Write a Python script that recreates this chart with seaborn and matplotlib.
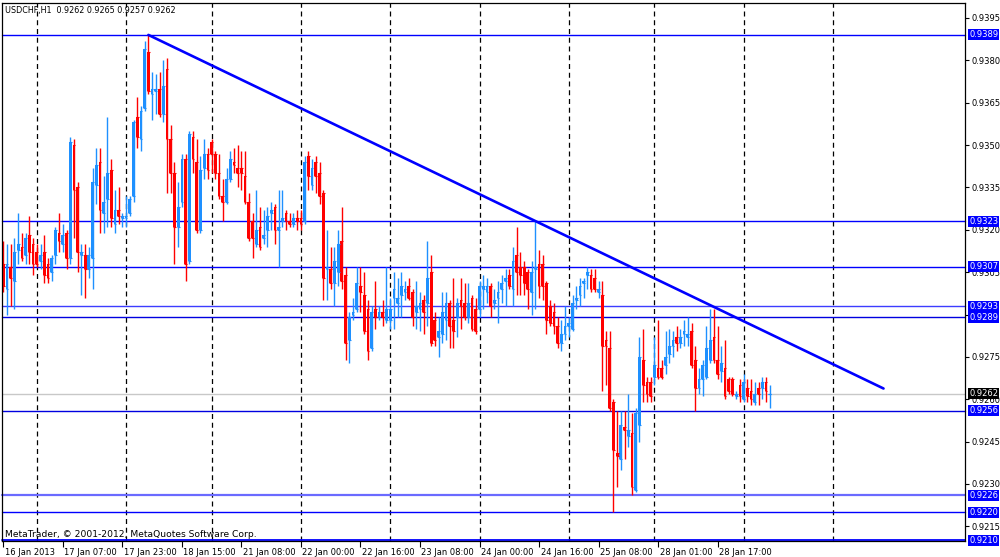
import numpy as np
import pandas as pd
import matplotlib
matplotlib.use("Agg")
import matplotlib.pyplot as plt
import seaborn as sns
from matplotlib.transforms import blended_transform_factory, ScaledTranslation

# ---------------- data ----------------
symbol = "USDCHF,H1"

opens = [
    0.9308, 0.9299, 0.9307, 0.9302, 0.9313, 0.9314, 0.9311, 0.9318, 0.9315, 0.9312,
    0.9309, 0.9312, 0.9308, 0.9305, 0.9311, 0.9319, 0.9315, 0.9319, 0.9310, 0.9350,
    0.9335, 0.9311, 0.9311, 0.9306, 0.9310, 0.9336, 0.9344, 0.9326, 0.9331, 0.9341,
    0.9322, 0.9327, 0.9324, 0.9324, 0.9326, 0.9332, 0.9360, 0.9352, 0.9363, 0.9383,
    0.9368, 0.9369, 0.9370, 0.9361, 0.9377, 0.9352, 0.9340, 0.9321, 0.9330, 0.9345,
    0.9309, 0.9353, 0.9344, 0.9320, 0.9342, 0.9347, 0.9351, 0.9347, 0.9340, 0.9332,
    0.9330, 0.9338, 0.9344, 0.9342, 0.9342, 0.9339, 0.9330, 0.9323, 0.9315, 0.9321,
    0.9317, 0.9320, 0.9326, 0.9328, 0.9320, 0.9323, 0.9326, 0.9323, 0.9322, 0.9324,
    0.9324, 0.9323, 0.9346, 0.9336, 0.9344, 0.9340, 0.9333, 0.9306, 0.9306, 0.9301,
    0.9305, 0.9316, 0.9304, 0.9281, 0.9290, 0.9292, 0.9300, 0.9297, 0.9292, 0.9278,
    0.9292, 0.9289, 0.9291, 0.9288, 0.9288, 0.9296, 0.9294, 0.9297, 0.9298, 0.9300,
    0.9298, 0.9291, 0.9292, 0.9295, 0.9294, 0.9305, 0.9288, 0.9282, 0.9283, 0.9288,
    0.9294, 0.9288, 0.9289, 0.9295, 0.9294, 0.9289, 0.9296, 0.9292, 0.9292, 0.9299,
    0.9298, 0.9300, 0.9294, 0.9296, 0.9299, 0.9302, 0.9304, 0.9299, 0.9311, 0.9307,
    0.9307, 0.9305, 0.9298, 0.9306, 0.9308, 0.9308, 0.9301, 0.9293, 0.9291, 0.9286,
    0.9280, 0.9283, 0.9286, 0.9285, 0.9295, 0.9297, 0.9301, 0.9304, 0.9304, 0.9303,
    0.9298, 0.9297, 0.9281, 0.9278, 0.9259, 0.9241, 0.9239, 0.9250, 0.9247, 0.9248,
    0.9228, 0.9251, 0.9274, 0.9266, 0.9266, 0.9268, 0.9271, 0.9271, 0.9272, 0.9276,
    0.9279, 0.9282, 0.9280, 0.9283, 0.9282, 0.9284, 0.9274, 0.9264, 0.9267, 0.9268,
    0.9274, 0.9282, 0.9274, 0.9270, 0.9271, 0.9267, 0.9267, 0.9261, 0.9265, 0.9260,
    0.9264, 0.9263, 0.9259, 0.9264, 0.9264, 0.9266, 0.9262,
]
highs = [
    0.9316, 0.9315, 0.9315, 0.9317, 0.9326, 0.9319, 0.9319, 0.9325, 0.9317, 0.9315,
    0.9315, 0.9318, 0.9310, 0.9311, 0.9321, 0.9326, 0.9322, 0.9320, 0.9353, 0.9352,
    0.9337, 0.9315, 0.9315, 0.9314, 0.9342, 0.9349, 0.9349, 0.9339, 0.9360, 0.9345,
    0.9334, 0.9335, 0.9326, 0.9332, 0.9332, 0.9359, 0.9367, 0.9364, 0.9387, 0.9389,
    0.9376, 0.9375, 0.9376, 0.9380, 0.9381, 0.9357, 0.9344, 0.9337, 0.9347, 0.9347,
    0.9355, 0.9355, 0.9352, 0.9346, 0.9352, 0.9349, 0.9352, 0.9348, 0.9347, 0.9338,
    0.9342, 0.9348, 0.9349, 0.9350, 0.9348, 0.9348, 0.9333, 0.9326, 0.9334, 0.9328,
    0.9327, 0.9328, 0.9330, 0.9329, 0.9334, 0.9334, 0.9327, 0.9326, 0.9326, 0.9327,
    0.9327, 0.9346, 0.9348, 0.9345, 0.9346, 0.9344, 0.9334, 0.9320, 0.9314, 0.9314,
    0.9320, 0.9328, 0.9307, 0.9291, 0.9296, 0.9307, 0.9307, 0.9305, 0.9295, 0.9293,
    0.9302, 0.9293, 0.9295, 0.9307, 0.9296, 0.9305, 0.9303, 0.9305, 0.9302, 0.9303,
    0.9299, 0.9302, 0.9298, 0.9297, 0.9316, 0.9311, 0.9291, 0.9289, 0.9298, 0.9298,
    0.9295, 0.9303, 0.9296, 0.9303, 0.9301, 0.9301, 0.9297, 0.9296, 0.9302, 0.9304,
    0.9303, 0.9301, 0.9299, 0.9302, 0.9304, 0.9306, 0.9306, 0.9314, 0.9321, 0.9312,
    0.9309, 0.9306, 0.9309, 0.9323, 0.9313, 0.9311, 0.9302, 0.9295, 0.9294, 0.9289,
    0.9288, 0.9293, 0.9289, 0.9297, 0.9300, 0.9303, 0.9303, 0.9307, 0.9306, 0.9306,
    0.9302, 0.9302, 0.9284, 0.9284, 0.9260, 0.9256, 0.9256, 0.9256, 0.9262, 0.9255,
    0.9257, 0.9282, 0.9285, 0.9268, 0.9268, 0.9282, 0.9288, 0.9274, 0.9284, 0.9285,
    0.9284, 0.9286, 0.9285, 0.9288, 0.9289, 0.9287, 0.9279, 0.9271, 0.9274, 0.9286,
    0.9292, 0.9292, 0.9286, 0.9279, 0.9281, 0.9268, 0.9268, 0.9263, 0.9267, 0.9269,
    0.9267, 0.9267, 0.9266, 0.9266, 0.9268, 0.9268, 0.9265,
]
lows = [
    0.9298, 0.9290, 0.9293, 0.9292, 0.9308, 0.9309, 0.9308, 0.9308, 0.9304, 0.9307,
    0.9306, 0.9301, 0.9301, 0.9302, 0.9308, 0.9312, 0.9312, 0.9306, 0.9308, 0.9317,
    0.9305, 0.9297, 0.9296, 0.9303, 0.9299, 0.9329, 0.9319, 0.9319, 0.9321, 0.9321,
    0.9319, 0.9322, 0.9321, 0.9321, 0.9325, 0.9330, 0.9349, 0.9348, 0.9362, 0.9368,
    0.9359, 0.9361, 0.9360, 0.9358, 0.9333, 0.9333, 0.9308, 0.9314, 0.9328, 0.9302,
    0.9308, 0.9340, 0.9319, 0.9319, 0.9338, 0.9338, 0.9340, 0.9338, 0.9331, 0.9323,
    0.9329, 0.9337, 0.9340, 0.9335, 0.9334, 0.9329, 0.9316, 0.9310, 0.9314, 0.9313,
    0.9315, 0.9314, 0.9320, 0.9315, 0.9307, 0.9321, 0.9320, 0.9321, 0.9321, 0.9320,
    0.9320, 0.9322, 0.9334, 0.9334, 0.9333, 0.9329, 0.9295, 0.9295, 0.9299, 0.9293,
    0.9300, 0.9299, 0.9274, 0.9273, 0.9288, 0.9291, 0.9291, 0.9283, 0.9274, 0.9277,
    0.9285, 0.9288, 0.9286, 0.9287, 0.9285, 0.9285, 0.9289, 0.9289, 0.9295, 0.9295,
    0.9286, 0.9285, 0.9284, 0.9283, 0.9286, 0.9279, 0.9279, 0.9275, 0.9280, 0.9281,
    0.9278, 0.9278, 0.9282, 0.9285, 0.9288, 0.9287, 0.9284, 0.9283, 0.9289, 0.9292,
    0.9294, 0.9289, 0.9292, 0.9287, 0.9294, 0.9293, 0.9299, 0.9293, 0.9297, 0.9297,
    0.9297, 0.9292, 0.9290, 0.9292, 0.9296, 0.9295, 0.9283, 0.9286, 0.9283, 0.9278,
    0.9277, 0.9281, 0.9282, 0.9284, 0.9292, 0.9293, 0.9296, 0.9299, 0.9298, 0.9298,
    0.9296, 0.9263, 0.9265, 0.9256, 0.9220, 0.9229, 0.9235, 0.9239, 0.9243, 0.9226,
    0.9227, 0.9245, 0.9259, 0.9259, 0.9259, 0.9265, 0.9267, 0.9267, 0.9269, 0.9273,
    0.9275, 0.9277, 0.9278, 0.9279, 0.9279, 0.9271, 0.9256, 0.9262, 0.9261, 0.9267,
    0.9273, 0.9273, 0.9267, 0.9266, 0.9260, 0.9262, 0.9261, 0.9260, 0.9259, 0.9259,
    0.9259, 0.9258, 0.9258, 0.9258, 0.9260, 0.9259, 0.9257,
]
closes = [
    0.9300, 0.9308, 0.9303, 0.9312, 0.9315, 0.9310, 0.9317, 0.9312, 0.9308, 0.9308,
    0.9311, 0.9304, 0.9303, 0.9310, 0.9320, 0.9316, 0.9318, 0.9310, 0.9351, 0.9334,
    0.9312, 0.9312, 0.9306, 0.9311, 0.9337, 0.9343, 0.9327, 0.9330, 0.9340, 0.9324,
    0.9327, 0.9325, 0.9325, 0.9325, 0.9331, 0.9358, 0.9353, 0.9362, 0.9384, 0.9369,
    0.9370, 0.9370, 0.9361, 0.9371, 0.9352, 0.9340, 0.9321, 0.9328, 0.9345, 0.9308,
    0.9354, 0.9345, 0.9320, 0.9341, 0.9347, 0.9341, 0.9347, 0.9340, 0.9332, 0.9330,
    0.9338, 0.9345, 0.9343, 0.9340, 0.9340, 0.9330, 0.9317, 0.9317, 0.9320, 0.9314,
    0.9318, 0.9325, 0.9327, 0.9320, 0.9321, 0.9324, 0.9323, 0.9322, 0.9324, 0.9323,
    0.9322, 0.9344, 0.9339, 0.9342, 0.9339, 0.9332, 0.9303, 0.9307, 0.9301, 0.9309,
    0.9315, 0.9302, 0.9280, 0.9289, 0.9291, 0.9301, 0.9298, 0.9284, 0.9277, 0.9291,
    0.9289, 0.9291, 0.9289, 0.9292, 0.9292, 0.9299, 0.9296, 0.9300, 0.9299, 0.9296,
    0.9289, 0.9293, 0.9294, 0.9291, 0.9303, 0.9280, 0.9281, 0.9284, 0.9291, 0.9294,
    0.9286, 0.9284, 0.9294, 0.9293, 0.9289, 0.9294, 0.9285, 0.9284, 0.9300, 0.9300,
    0.9300, 0.9293, 0.9295, 0.9298, 0.9301, 0.9303, 0.9300, 0.9309, 0.9305, 0.9304,
    0.9301, 0.9299, 0.9305, 0.9307, 0.9300, 0.9300, 0.9288, 0.9287, 0.9286, 0.9280,
    0.9283, 0.9286, 0.9287, 0.9294, 0.9296, 0.9300, 0.9302, 0.9305, 0.9299, 0.9299,
    0.9299, 0.9279, 0.9279, 0.9257, 0.9242, 0.9240, 0.9251, 0.9249, 0.9249, 0.9229,
    0.9255, 0.9275, 0.9265, 0.9262, 0.9261, 0.9272, 0.9268, 0.9268, 0.9275, 0.9279,
    0.9281, 0.9280, 0.9282, 0.9284, 0.9283, 0.9272, 0.9264, 0.9267, 0.9272, 0.9278,
    0.9281, 0.9274, 0.9269, 0.9273, 0.9261, 0.9263, 0.9262, 0.9262, 0.9261, 0.9266,
    0.9261, 0.9260, 0.9262, 0.9262, 0.9266, 0.9263, 0.9262,
]

x_tick_labels = [
    "16 Jan 2013", "17 Jan 07:00", "17 Jan 23:00", "18 Jan 15:00", "21 Jan 08:00",
    "22 Jan 00:00", "22 Jan 16:00", "23 Jan 08:00", "24 Jan 00:00", "24 Jan 16:00",
    "25 Jan 08:00", "28 Jan 01:00", "28 Jan 17:00",
]
y_tick_values = [0.9215, 0.9230, 0.9245, 0.9260, 0.9275, 0.9290, 0.9305,
                 0.9320, 0.9335, 0.9350, 0.9365, 0.9380, 0.9395]
price_levels = [0.9389, 0.9323, 0.9307, 0.9293, 0.9289, 0.9256, 0.9226, 0.9220, 0.9210]
trend_bars = [39, 236.6]
trend_prices = [0.9389, 0.92638]
day_grid_bars = [9, 33, 56, 80, 104, 128, 152, 175, 199, 223]

# ---------------- styling ----------------
level_colors = ["#0000FF", "#0000FF", "#0000FF", "#3C3CFF", "#0000E0",
                "#0000E0", "#6A6AFF", "#0000FF", "#0000FF"]
level_widths = [1.0, 1.0, 1.0, 1.0, 1.0, 1.0, 1.6, 1.0, 1.3]
BULL = "#1E90FF"
BEAR = "#FF0000"
FS = 6.0

df = pd.DataFrame({"open": opens, "high": highs, "low": lows, "close": closes})
df["bar"] = np.arange(len(df))
df["color"] = np.where(df["close"] >= df["open"], BULL, BEAR)

sns.set_style("white")
plt.rcParams["font.family"] = ["DejaVu Sans"]

fig = plt.figure(figsize=(10, 5.57), dpi=100)
ax = fig.add_axes([0.002, 0.0287, 0.963, 0.9664])
ax.set_facecolor("white")

# day separators
for g in day_grid_bars:
    ax.axvline(g, color="black", lw=0.9, dashes=(4, 3), zorder=1)

# current price line
ax.axhline(closes[-1], color="#C8C8C8", lw=1.0, zorder=1.2)

# horizontal levels
for lv, c, w in zip(price_levels, level_colors, level_widths):
    ax.axhline(lv, color=c, lw=w, zorder=1.5, clip_on=False)

# candles
ax.vlines(df["bar"], df["low"], df["high"], colors=df["color"], lw=1.0, zorder=2)
ax.bar(df["bar"], df["close"] - df["open"], bottom=df["open"], width=0.74,
       color=df["color"], lw=0, zorder=2.1)
ax.hlines(df["open"], df["bar"] - 0.37, df["bar"] + 0.37, colors=df["color"], lw=0.8, zorder=2.1)
ax.hlines(df["close"], df["bar"] - 0.37, df["bar"] + 0.37, colors=df["color"], lw=0.8, zorder=2.1)

# trend line
sns.lineplot(x=trend_bars, y=trend_prices, color="#0000FF", lw=1.9, ax=ax, zorder=2.5)

ax.set_xlim(-0.35, 258.5)
ax.set_ylim(0.92098, 0.94004)

# axes / ticks
ax.yaxis.tick_right()
ax.set_yticks(y_tick_values)
# the 0.9290 label sits fully under the 0.9289 price tag in the original
ax.set_yticklabels(["" if abs(v - 0.9290) < 1e-6 else f"{v:.4f}" for v in y_tick_values])
tick_bars = list(range(0, len(df), 16))
ax.set_xticks(tick_bars)
ax.set_xticklabels(x_tick_labels[:len(tick_bars)])
ax.tick_params(axis="y", direction="out", length=3, width=0.8, pad=1.5,
               labelsize=FS, colors="black", left=False, right=True)
ax.tick_params(axis="x", direction="out", length=4, width=0.8, pad=1,
               labelsize=FS, colors="black", bottom=True)
offset = ScaledTranslation(1.5 / 100, 0, fig.dpi_scale_trans)
for lbl in ax.get_xticklabels():
    lbl.set_horizontalalignment("left")
    lbl.set_transform(lbl.get_transform() + offset)
for sp in ax.spines.values():
    sp.set_visible(True)
    sp.set_color("black")
    sp.set_linewidth(0.9)
ax.set_xlabel("")
ax.set_ylabel("")
ax.grid(False)

# price tags on the right scale
blend = blended_transform_factory(ax.transAxes, ax.transData)
for lv in price_levels:
    ax.text(1.0045, lv, f"{lv:.4f}", transform=blend, ha="left", va="center",
            color="white", fontsize=FS, zorder=6, clip_on=False,
            bbox=dict(boxstyle="square,pad=0.12", fc="#0000FF", ec="none"))
ax.text(1.0045, closes[-1], f"{closes[-1]:.4f}", transform=blend, ha="left",
        va="center", color="white", fontsize=FS, zorder=7, clip_on=False,
        bbox=dict(boxstyle="square,pad=0.12", fc="black", ec="none"))

# header and watermark
ax.text(0.0031, 0.986,
        f"{symbol}  {opens[-1]:.4f} {highs[-1]:.4f} {lows[-1]:.4f} {closes[-1]:.4f}",
        transform=ax.transAxes, ha="left", va="center", fontsize=5.8, color="black")
ax.text(0.0031, 0.013, "MetaTrader, \u00a9 2001-2012, MetaQuotes Software Corp.",
        transform=ax.transAxes, ha="left", va="center", fontsize=6.6, color="black")

fig.savefig("out.png", dpi=100, facecolor="white")
